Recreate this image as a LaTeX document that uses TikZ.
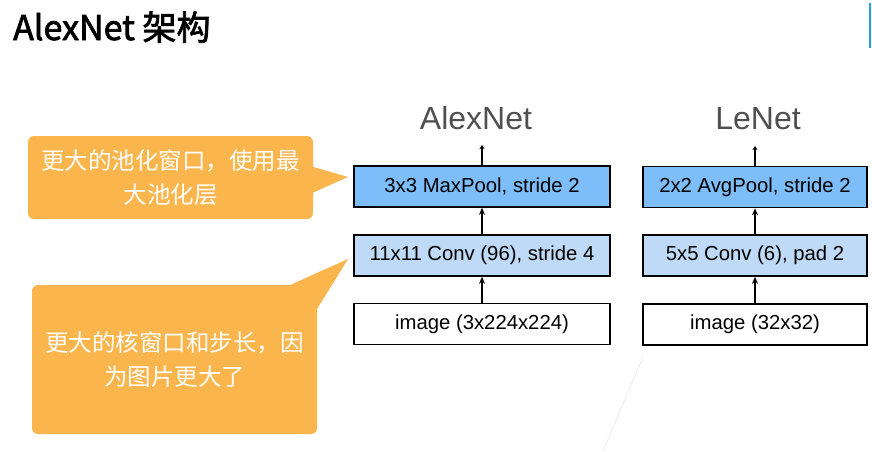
\documentclass[tikz,border=0pt]{standalone}
\usepackage{fontspec}
\setmainfont{Liberation Sans}
\newfontfamily\cjk{Noto Sans CJK SC}
\newfontfamily\cjkmed[FakeBold=2.2]{Noto Sans CJK SC}
\usetikzlibrary{arrows.meta}
\definecolor{poolblue}{RGB}{125,189,249}
\definecolor{convblue}{RGB}{191,218,247}
\definecolor{callorange}{RGB}{251,181,77}
\definecolor{linkblue}{RGB}{30,160,225}
\definecolor{labelgray}{RGB}{80,80,80}
\tikzset{
  layer/.style={draw=black, line width=1.6pt, minimum width=256pt, minimum height=41pt, inner sep=0pt,
    font=\fontsize{20.3}{24}\selectfont},
  pool/.style={layer, fill=poolblue},
  conv/.style={layer, fill=convblue},
  img/.style={layer, fill=white},
  flow/.style={line width=1.4pt, -{Stealth[length=7pt,width=6pt]}},
  outflow/.style={line width=1.4pt, -{Stealth[length=4pt,width=5pt]}},
  netlabel/.style={text=labelgray, font=\fontsize{32}{38}\selectfont, anchor=base, inner sep=0pt},
  callout/.style={fill=callorange, rounded corners=6pt, inner sep=0pt, text=white, align=center,
    font=\cjk\fontsize{23.5}{33.5}\selectfont},
}
\begin{document}
\begin{tikzpicture}[x=1pt,y=-1pt]
\useasboundingbox (0,0) rectangle (872,451);
% title
\node[anchor=base west, inner sep=0pt, font=\cjkmed\fontsize{34}{40}\selectfont] (title) at (13,40) {AlexNet 架构};
\draw[linkblue, line width=2pt] (870,3) -- (870,48);
% faint line
\draw[black!8, line width=0.8pt] (643,357) -- (603,451);

% AlexNet column
\node[netlabel] (alexlabel) at (476,129) {AlexNet};
\node[pool, minimum width=256pt] (apool) at (482,186.5) {3x3 MaxPool, stride 2};
\node[conv, minimum width=256pt] (aconv) at (482,255.5) {11x11 Conv (96), stride 4};
\node[img, minimum width=256pt] (aimg) at (482,324) {image (3x224x224)};
\coordinate (aout) at (482,145);
\draw[flow] (aimg.north) -- (aconv.south);
\draw[flow] (aconv.north) -- (apool.south);
\draw[outflow] (apool.north) -- (aout);

% LeNet column
\node[netlabel] (lelabel) at (758,129) {LeNet};
\node[pool, minimum width=224pt] (lpool) at (755,187) {2x2 AvgPool, stride 2};
\node[conv, minimum width=224pt] (lconv) at (755,255.5) {5x5 Conv (6), pad 2};
\node[img, minimum width=224pt] (limg) at (755,324.5) {image (32x32)};
\coordinate (lout) at (755,146);
\draw[flow] (limg.north) -- (lconv.south);
\draw[flow] (lconv.north) -- (lpool.south);
\draw[outflow] (lpool.north) -- (lout);

% callout 1
\node[callout, minimum width=285pt, minimum height=83pt] (c1) at (170.5,177.5) {更大的池化窗口，使用最\\大池化层};
\coordinate (c1tip) at (348,177);
\fill[callorange] (310,166) -- (c1tip) -- (310,194) -- cycle;

% callout 2
\node[callout, minimum width=285pt, minimum height=149pt] (c2) at (174.5,359.5) {更大的核窗口和步长，因\\为图片更大了};
\coordinate (c2tip) at (348,259);
\fill[callorange] (289,285.5) -- (c2tip) -- (317,309) -- (300,300) -- cycle;
\end{tikzpicture}
\end{document}
